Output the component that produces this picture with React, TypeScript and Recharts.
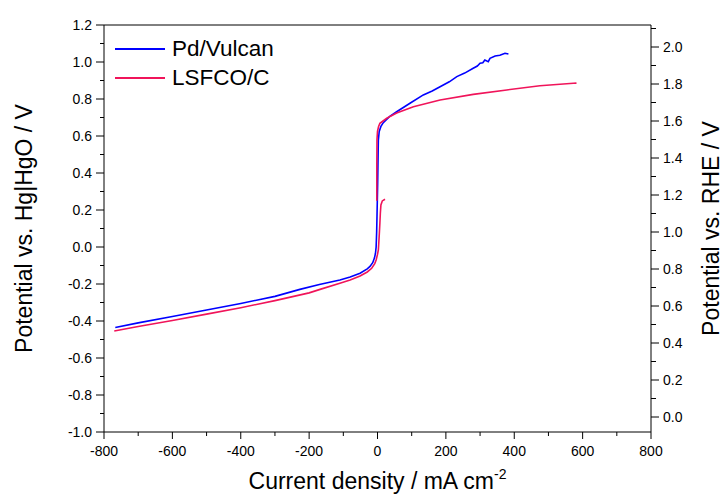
import React from "react";
import { LineChart, Line, XAxis, YAxis, Legend, ReferenceLine } from "recharts";

const FONT = '"Liberation Sans", Arial, sans-serif';
const BLUE = "#0000ff";
const RED = "#f0145a";

// tick values (major + minor)
const xTicks = [-800, -700, -600, -500, -400, -300, -200, -100, 0, 100, 200, 300, 400, 500, 600, 700, 800];
const leftTicks = [-1.0, -0.9, -0.8, -0.7, -0.6, -0.5, -0.4, -0.3, -0.2, -0.1, 0.0, 0.1, 0.2, 0.3, 0.4, 0.5, 0.6, 0.7, 0.8, 0.9, 1.0, 1.1, 1.2];
const rightTicks = [0.0, 0.1, 0.2, 0.3, 0.4, 0.5, 0.6, 0.7, 0.8, 0.9, 1.0, 1.1, 1.2, 1.3, 1.4, 1.5, 1.6, 1.7, 1.8, 1.9, 2.0, 2.1];
const leftDomain = [-1.0, 1.2];
const rheOffset = 0.919; // RHE = Hg|HgO + offset

// Pd/Vulcan
const pdJ = [-767, -700, -600, -500, -400, -300, -227, -170, -110, -80, -51, -30, -22, -14, -9, -6, -4, -2.5, -1.5, 0.5, 2, 2.5, 5, 10, 17, 35, 56, 95, 134, 160, 183, 210, 232, 255, 280, 292, 300, 308, 314, 324, 329, 344, 358, 373, 383];
const pdE = [-0.435, -0.41, -0.376, -0.341, -0.305, -0.267, -0.229, -0.203, -0.178, -0.162, -0.142, -0.118, -0.105, -0.085, -0.06, -0.035, 0.0, 0.08, 0.164, 0.344, 0.524, 0.578, 0.625, 0.652, 0.672, 0.705, 0.731, 0.777, 0.822, 0.843, 0.866, 0.893, 0.921, 0.94, 0.966, 0.978, 0.993, 0.996, 1.011, 1.002, 1.02, 1.032, 1.036, 1.047, 1.043];

// LSFCO/C (null splits the two scan segments)
const lsJ = [-770, -700, -600, -500, -400, -300, -200, -168, -110, -80, -51, -30, -17, -8, -4, 0, 2.5, 4, 5.4, 7, 8.3, 10, 14, 22, 10, -2, -2, -1.5, 0, 3, 7, 27, 56, 105, 183, 280, 378, 475, 573, 582];
const lsE = [-0.454, -0.43, -0.397, -0.363, -0.328, -0.29, -0.248, -0.229, -0.196, -0.178, -0.157, -0.135, -0.115, -0.09, -0.07, -0.04, -0.016, 0.03, 0.074, 0.13, 0.182, 0.227, 0.249, 0.258, null, 0.25, 0.45, 0.58, 0.625, 0.65, 0.669, 0.696, 0.724, 0.758, 0.795, 0.825, 0.849, 0.872, 0.885, 0.886];

const pdData = pdJ.map((x, i) => ({ x, e: pdE[i] }));
const lsData = lsJ.map((x, i) => ({ x, e: lsE[i] }));

const legendItems = [
  { name: "Pd/Vulcan", color: BLUE },
  { name: "LSFCO/C", color: RED },
];

const isMajor = (v: number) => Math.round(v * 10) % 2 === 0;

const LeftTick = (props: any) => {
  const { x, y, payload } = props;
  const v = payload.value;
  const major = isMajor(v);
  return (
    <g>
      <line x1={x} x2={x - (major ? 8 : 4)} y1={y} y2={y} stroke="#000" />
      {major && (
        <text x={x - 12} y={y + 5} textAnchor="end" fontSize={14} fontFamily={FONT} fill="#000">
          {v.toFixed(1)}
        </text>
      )}
    </g>
  );
};

const RightTick = (props: any) => {
  const { x, y, payload } = props;
  const v = payload.value;
  const major = isMajor(v);
  return (
    <g>
      <line x1={x} x2={x + (major ? 8 : 5)} y1={y} y2={y} stroke="#000" />
      {major && (
        <text x={x + 12} y={y + 5} textAnchor="start" fontSize={14} fontFamily={FONT} fill="#000">
          {v.toFixed(1)}
        </text>
      )}
    </g>
  );
};

const BottomTick = (props: any) => {
  const { x, y, payload } = props;
  const v = payload.value;
  const major = v % 200 === 0;
  return (
    <g>
      <line x1={x} x2={x} y1={y} y2={y + (major ? 7 : 4)} stroke="#000" />
      {major && (
        <text x={x} y={y + 24} textAnchor="middle" fontSize={14} fontFamily={FONT} fill="#000">
          {v}
        </text>
      )}
    </g>
  );
};

const VerticalTitle = ({ viewBox, dx, text }: any) => {
  const cx = viewBox.x + dx;
  const cy = viewBox.y + viewBox.height / 2;
  return (
    <text x={cx} y={cy} transform={`rotate(-90 ${cx} ${cy})`} textAnchor="middle" fontSize={23} fontFamily={FONT} fill="#000">
      {text}
    </text>
  );
};

const XTitle = ({ viewBox }: any) => {
  const cx = viewBox.x + viewBox.width / 2;
  const cy = viewBox.y + 57;
  return (
    <text x={cx} y={cy} textAnchor="middle" fontSize={23} fontFamily={FONT} fill="#000">
      Current density / mA cm
      <tspan fontSize={14} dy={-10}>-2</tspan>
    </text>
  );
};

const LegendBox = () => (
  <div style={{ fontFamily: FONT, fontSize: 22.5, color: "#000" }}>
    {legendItems.map((it) => (
      <div key={it.name} style={{ display: "flex", alignItems: "center", height: 28.5 }}>
        <svg width={50} height={4} style={{ display: "block" }}>
          <line x1={0} x2={50} y1={2} y2={2} stroke={it.color} strokeWidth={2} />
        </svg>
        <span style={{ marginLeft: 7, lineHeight: "28px" }}>{it.name}</span>
      </div>
    ))}
  </div>
);

export default function App() {
  return (
    <div style={{ position: "absolute", left: 0, top: 0 }}>
      <LineChart width={724} height={499} margin={{ top: 25, right: 0, bottom: 0, left: 0 }}>
        <XAxis
          type="number"
          dataKey="x"
          domain={[-800, 800]}
          ticks={xTicks}
          interval={0}
          allowDataOverflow
          height={67}
          tickSize={0}
          tickMargin={0}
          tickLine={false}
          axisLine={{ stroke: "#000" }}
          tick={<BottomTick />}
          label={(p: any) => <XTitle viewBox={p.viewBox} />}
        />
        <YAxis
          yAxisId="left"
          type="number"
          domain={leftDomain}
          ticks={leftTicks}
          interval={0}
          allowDataOverflow
          width={104}
          tickSize={0}
          tickMargin={0}
          tickLine={false}
          axisLine={{ stroke: "#000" }}
          tick={<LeftTick />}
          label={(p: any) => <VerticalTitle viewBox={p.viewBox} dx={32} text="Potential vs. Hg|HgO / V" />}
        />
        <YAxis
          yAxisId="right"
          orientation="right"
          type="number"
          domain={[leftDomain[0] + rheOffset, leftDomain[1] + rheOffset]}
          ticks={rightTicks}
          interval={0}
          allowDataOverflow
          width={73}
          tickSize={0}
          tickMargin={0}
          tickLine={false}
          axisLine={{ stroke: "#000" }}
          tick={<RightTick />}
          label={(p: any) => <VerticalTitle viewBox={p.viewBox} dx={68} text="Potential vs. RHE / V" />}
        />
        <ReferenceLine yAxisId="left" y={leftDomain[1]} stroke="#000" ifOverflow="extendDomain" />
        <Legend
          layout="vertical"
          verticalAlign="middle"
          align="center"
          wrapperStyle={{ left: 115, top: 35, width: "auto" }}
          content={() => <LegendBox />}
        />
        <Line
          yAxisId="left"
          data={pdData}
          dataKey="e"
          type="linear"
          stroke={BLUE}
          strokeWidth={1.6}
          dot={false}
          isAnimationActive={false}
        />
        <Line
          yAxisId="left"
          data={lsData}
          dataKey="e"
          type="linear"
          stroke={RED}
          strokeWidth={1.6}
          dot={false}
          isAnimationActive={false}
        />
      </LineChart>
    </div>
  );
}
